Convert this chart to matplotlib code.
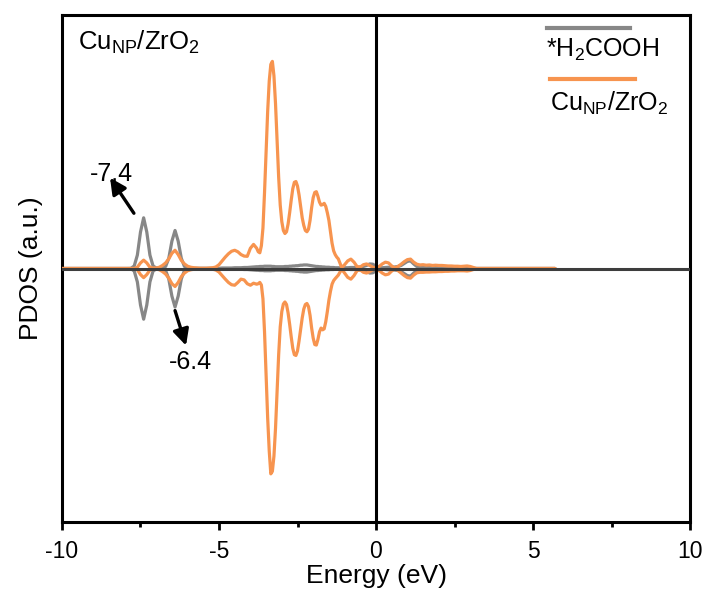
import numpy as np
import matplotlib
matplotlib.use("Agg")
import matplotlib.pyplot as plt
from matplotlib.lines import Line2D

plt.rcParams['font.family'] = ['Liberation Sans', 'DejaVu Sans']
plt.rcParams['mathtext.fontset'] = 'custom'
plt.rcParams['mathtext.rm'] = 'Liberation Sans'
plt.rcParams['mathtext.it'] = 'Liberation Sans:italic'
plt.rcParams['mathtext.default'] = 'regular'

# Energy grid of the tabulated PDOS (eV): 0.1 eV steps, 0.05 eV steps
# across the Cu d band; the curves are flat outside the grid
energy_grid = np.round(np.concatenate([
    np.arange(-8.0, -3.85, 0.1),    # -8.0 ... -3.9   (42 points)
    np.arange(-3.80, -1.04, 0.05),  # -3.80 ... -1.05 (56 points)
    np.arange(-1.0, 3.21, 0.1),     # -1.0 ... 3.2    (43 points)
]), 2)
energy_start, energy_end = -10.0, 5.7

# Cu_NP/ZrO2, spin up
cu_up = [
    # -8.0 ... -3.9
    0.00, 0.00, 0.00, 0.00, 0.05, 0.22, 0.33, 0.22, 0.05, 0.02,
    0.02, 0.05, 0.12, 0.22, 0.38, 0.60, 0.72, 0.55, 0.32, 0.18,
    0.09, 0.05, 0.03, 0.02, 0.01, 0.01, 0.01, 0.02, 0.03, 0.06,
    0.15, 0.30, 0.45, 0.58, 0.68, 0.72, 0.66, 0.55, 0.49, 0.48,
    0.80, 0.95,
    # -3.80 ... -1.05
    0.80, 0.66, 0.62, 0.90, 1.60, 3.00, 4.60, 6.20, 7.40, 8.05,
    8.17, 7.60, 6.50, 5.00, 3.60, 2.50, 1.85, 1.50, 1.38, 1.45,
    1.75, 2.20, 2.70, 3.15, 3.40, 3.43, 3.25, 2.90, 2.45, 2.00,
    1.70, 1.50, 1.45, 1.55, 1.90, 2.40, 2.80, 3.00, 3.03, 2.85,
    2.62, 2.50, 2.52, 2.57, 2.45, 2.20, 1.90, 1.45, 1.00, 0.70,
    0.55, 0.45, 0.38, 0.22, 0.06, 0.08,
    # -1.0 ... 3.2
    0.15, 0.30, 0.37, 0.25, 0.07, 0.06, 0.15, 0.18, 0.12, 0.05,
    0.02, 0.08, 0.18, 0.25, 0.22, 0.10, 0.02, 0.08, 0.17, 0.27,
    0.35, 0.37, 0.25, 0.17, 0.14, 0.15, 0.13, 0.14, 0.12, 0.13,
    0.12, 0.12, 0.11, 0.10, 0.10, 0.09, 0.09, 0.08, 0.09, 0.10,
    0.08, 0.04, 0.00,
]

# Cu_NP/ZrO2, spin down
cu_down = [
    # -8.0 ... -3.9
    0.00, 0.00, 0.00, 0.00, -0.05, -0.24, -0.36, -0.24, -0.06, -0.02,
    -0.02, -0.05, -0.12, -0.22, -0.38, -0.60, -0.71, -0.55, -0.32, -0.18,
    -0.09, -0.05, -0.03, -0.02, -0.01, -0.01, -0.01, -0.02, -0.03, -0.06,
    -0.14, -0.28, -0.42, -0.55, -0.64, -0.66, -0.55, -0.42, -0.45, -0.60,
    -0.66, -0.58,
    # -3.80 ... -1.05
    -0.62, -0.60, -0.55, -0.65, -1.20, -2.50, -4.20, -5.90, -7.20, -8.10,
    -8.00, -7.40, -6.30, -4.80, -3.40, -2.30, -1.70, -1.40, -1.32, -1.42,
    -1.75, -2.20, -2.70, -3.15, -3.40, -3.43, -3.25, -2.85, -2.40, -1.95,
    -1.60, -1.42, -1.38, -1.50, -1.85, -2.35, -2.75, -3.00, -3.02, -2.80,
    -2.50, -2.35, -2.42, -2.38, -2.10, -1.70, -1.25, -0.90, -0.62, -0.48,
    -0.40, -0.33, -0.26, -0.15, -0.05, -0.10,
    # -1.0 ... 3.2
    -0.18, -0.35, -0.42, -0.28, -0.08, -0.06, -0.15, -0.18, -0.12, -0.05,
    -0.02, -0.08, -0.18, -0.25, -0.22, -0.10, -0.02, -0.08, -0.18, -0.28,
    -0.36, -0.38, -0.26, -0.17, -0.15, -0.15, -0.14, -0.14, -0.13, -0.13,
    -0.12, -0.12, -0.11, -0.11, -0.10, -0.10, -0.09, -0.09, -0.09, -0.10,
    -0.08, -0.04, 0.00,
]

# *H2COOH adsorbate, spin up
ads_up = [
    # -8.0 ... -3.9
    0.00, 0.00, 0.01, 0.10, 0.53, 1.44, 2.00, 1.44, 0.53, 0.10,
    0.02, 0.01, 0.02, 0.08, 0.40, 1.08, 1.50, 1.08, 0.40, 0.08,
    0.02, 0.01, 0.01, 0.01, 0.01, 0.01, 0.01, 0.01, 0.01, 0.01,
    0.01, 0.02, 0.02, 0.02, 0.02, 0.03, 0.03, 0.03, 0.04, 0.04,
    0.05, 0.06,
    # -3.80 ... -1.05
    0.07, 0.07, 0.08, 0.08, 0.08, 0.09, 0.09, 0.09, 0.09, 0.09,
    0.08, 0.08, 0.07, 0.07, 0.07, 0.07, 0.07, 0.07, 0.08, 0.08,
    0.08, 0.09, 0.09, 0.10, 0.10, 0.11, 0.11, 0.12, 0.13, 0.13,
    0.14, 0.14, 0.14, 0.13, 0.12, 0.11, 0.10, 0.09, 0.08, 0.08,
    0.07, 0.07, 0.06, 0.06, 0.05, 0.05, 0.05, 0.04, 0.04, 0.04,
    0.03, 0.03, 0.03, 0.03, 0.03, 0.03,
    # -1.0 ... 3.2
    0.03, 0.03, 0.04, 0.04, 0.05, 0.06, 0.08, 0.12, 0.18, 0.17,
    0.08, 0.04, 0.03, 0.04, 0.05, 0.05, 0.06, 0.08, 0.12, 0.20,
    0.28, 0.30, 0.18, 0.08, 0.05, 0.04, 0.04, 0.05, 0.06, 0.07,
    0.08, 0.08, 0.07, 0.06, 0.05, 0.04, 0.03, 0.03, 0.02, 0.02,
    0.01, 0.01, 0.00,
]

# *H2COOH adsorbate, spin down
ads_down = [
    # -8.0 ... -3.9
    0.00, 0.00, -0.01, -0.10, -0.53, -1.44, -2.00, -1.44, -0.53, -0.10,
    -0.02, -0.01, -0.02, -0.08, -0.41, -1.09, -1.52, -1.09, -0.41, -0.08,
    -0.02, -0.01, -0.01, -0.01, -0.01, -0.01, -0.01, -0.01, -0.01, -0.01,
    -0.01, -0.02, -0.02, -0.02, -0.02, -0.03, -0.03, -0.03, -0.04, -0.04,
    -0.05, -0.06,
    # -3.80 ... -1.05
    -0.07, -0.07, -0.08, -0.08, -0.08, -0.09, -0.09, -0.09, -0.09, -0.09,
    -0.08, -0.08, -0.07, -0.07, -0.07, -0.07, -0.07, -0.07, -0.08, -0.08,
    -0.08, -0.09, -0.09, -0.10, -0.10, -0.11, -0.11, -0.12, -0.13, -0.13,
    -0.14, -0.14, -0.14, -0.13, -0.12, -0.11, -0.10, -0.09, -0.08, -0.08,
    -0.07, -0.07, -0.06, -0.06, -0.05, -0.05, -0.05, -0.04, -0.04, -0.04,
    -0.03, -0.03, -0.03, -0.03, -0.03, -0.03,
    # -1.0 ... 3.2
    -0.03, -0.03, -0.04, -0.04, -0.05, -0.06, -0.08, -0.12, -0.18, -0.17,
    -0.08, -0.04, -0.03, -0.04, -0.05, -0.05, -0.06, -0.08, -0.12, -0.20,
    -0.28, -0.30, -0.18, -0.08, -0.05, -0.04, -0.04, -0.05, -0.06, -0.07,
    -0.08, -0.08, -0.07, -0.06, -0.05, -0.04, -0.03, -0.03, -0.02, -0.02,
    -0.01, -0.01, 0.00,
]

# Labelled adsorbate peaks (eV)
peak_labels = [-7.4, -6.4]

x_ticks = [-10, -5, 0, 5, 10]
x_minor = [-7.5, -2.5, 2.5, 7.5]

ORANGE = '#F7944F'
GREY = '#878787'
LW = 2.3

for series in (cu_up, cu_down, ads_up, ads_down):
    assert len(series) == len(energy_grid)


def full(vals):
    """Extend a tabulated curve with its flat ends."""
    return np.concatenate(([0.0], np.asarray(vals, float), [0.0]))


energy = np.concatenate(([energy_start], energy_grid, [energy_end]))

fig = plt.figure(figsize=(7.07, 5.90), dpi=100)
ax = fig.add_axes([62 / 707, 68 / 590, 628 / 707, 507 / 590])

line_kw = dict(lw=LW, solid_joinstyle='round', solid_capstyle='round')
ax.plot(energy, full(ads_up), color=GREY, zorder=2, **line_kw)
ax.plot(energy, full(ads_down), color=GREY, zorder=2, **line_kw)
ax.plot(energy, full(cu_up), color=ORANGE, zorder=3, **line_kw)
ax.plot(energy, full(cu_down), color=ORANGE, zorder=3, **line_kw)

ax.axhline(0, color='#3d3d3d', lw=2.2, zorder=4)
ax.axvline(0, color='black', lw=2.2, zorder=4)

ax.set_xlim(-10, 10)
ax.set_ylim(-10, 10)
ax.set_xticks(x_ticks)
ax.set_xticklabels([str(t) for t in x_ticks])
ax.set_xticks(x_minor, minor=True)
ax.set_yticks([])
ax.tick_params(axis='x', which='major', direction='out', length=6, width=2.0,
               labelsize=16.5, pad=7)
ax.tick_params(axis='x', which='minor', direction='out', length=3.5, width=2.0)
for sp in ax.spines.values():
    sp.set_linewidth(2.2)
    sp.set_color('black')

ax.set_xlabel('Energy (eV)', fontsize=19, labelpad=1)
ax.set_ylabel('PDOS (a.u.)', fontsize=19, labelpad=14)

# Panel title
ax.text(0.0255, 0.931, r'Cu$_{\mathrm{NP}}$/ZrO$_2$', transform=ax.transAxes,
        fontsize=18.5, ha='left', va='baseline')

# Legend: line sample above each label
ax.add_line(Line2D([0.772, 0.904], [0.974, 0.974], transform=ax.transAxes,
                   color=GREY, lw=3))
ax.text(0.771, 0.917, r'*H$_2$COOH', transform=ax.transAxes, fontsize=18,
        ha='left', va='baseline')
ax.add_line(Line2D([0.777, 0.912], [0.874, 0.874], transform=ax.transAxes,
                   color=ORANGE, lw=3))
ax.text(0.777, 0.811, r'Cu$_{\mathrm{NP}}$/ZrO$_2$', transform=ax.transAxes,
        fontsize=18, ha='left', va='baseline')

# Peak annotations
arrow = dict(arrowstyle='-|>', color='black', lw=2.4, mutation_scale=24,
             shrinkA=0, shrinkB=0)
ax.annotate('', xy=(peak_labels[0] - 1.07, 3.58),
            xytext=(peak_labels[0] - 0.31, 2.18), arrowprops=arrow, zorder=5)
ax.text(peak_labels[0] - 1.04, 3.71, f'{peak_labels[0]:.1f}', fontsize=18,
        ha='center', va='center', zorder=6)
ax.annotate('', xy=(peak_labels[1] + 0.35, -3.04),
            xytext=(peak_labels[1], -1.66), arrowprops=arrow, zorder=5)
ax.text(peak_labels[1] + 0.48, -3.67, f'{peak_labels[1]:.1f}', fontsize=18,
        ha='center', va='center', zorder=6)

fig.savefig('out.png', dpi=100)
